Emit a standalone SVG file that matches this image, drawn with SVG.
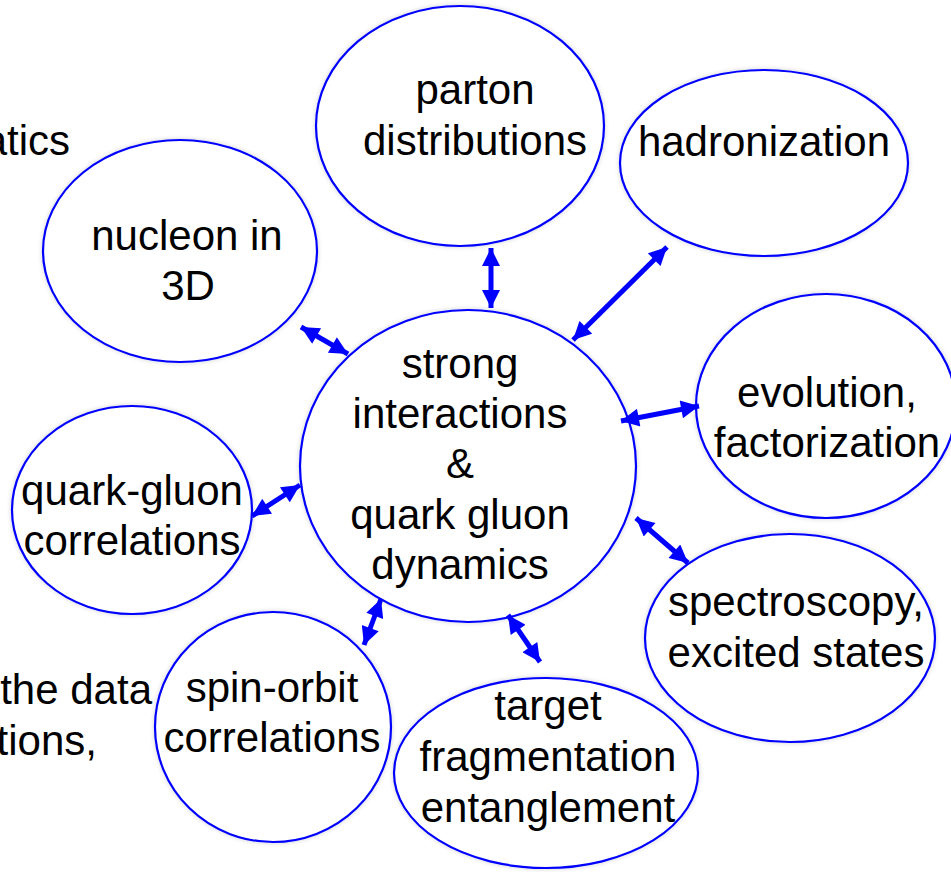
<svg xmlns="http://www.w3.org/2000/svg" width="951" height="872" viewBox="0 0 951 872">
<style>
.n ellipse{fill:#fff;stroke:#0000ff;stroke-width:2.2;filter:url(#sh)}
text{font-family:"Liberation Sans",Arial,sans-serif;font-size:42px;fill:#000}
.n text{text-anchor:middle}
.c line{stroke:#0000ff;stroke-width:5;marker-start:url(#a);marker-end:url(#a)}
</style>
<defs>
<filter id="sh" x="-10%" y="-10%" width="120%" height="120%">
<feGaussianBlur in="SourceAlpha" stdDeviation="2.5"/>
<feComponentTransfer><feFuncA type="linear" slope="0.18"/></feComponentTransfer>
<feMerge><feMergeNode/><feMergeNode in="SourceGraphic"/></feMerge>
</filter>
<marker id="a" viewBox="0 0 10 10" refX="10" refY="5" markerWidth="4" markerHeight="3.6" orient="auto-start-reverse" markerUnits="strokeWidth">
<path d="M0,0 L10,5 L0,10 Z" fill="#0000ff"/>
</marker>
</defs>
<rect width="951" height="872" fill="#fff"/>
<text x="70" y="155" text-anchor="end">atics</text>
<text x="152" y="704" text-anchor="end">the data</text>
<text x="97" y="755" text-anchor="end">tions,</text>
<g id="parton" class="n"><ellipse cx="460" cy="126" rx="144" ry="120"/><text x="475" y="104">parton</text><text x="475" y="155">distributions</text></g>
<g id="hadronization" class="n"><ellipse cx="764" cy="163" rx="144" ry="93"/><text x="764" y="156">hadronization</text></g>
<g id="nucleon" class="n"><ellipse cx="180" cy="251" rx="137" ry="111"/><text x="187" y="250">nucleon in</text><text x="188" y="300">3D</text></g>
<g id="evolution" class="n"><ellipse cx="826" cy="406" rx="130" ry="112"/><text x="827" y="407">evolution,</text><text x="827" y="457">factorization</text></g>
<g id="quarkgluon" class="n"><ellipse cx="132" cy="510" rx="120" ry="104"/><text x="132" y="505">quark-gluon</text><text x="132" y="555">correlations</text></g>
<g id="spectroscopy" class="n"><ellipse cx="790" cy="638" rx="145" ry="104"/><text x="796" y="616">spectroscopy,</text><text x="796" y="667">excited states</text></g>
<g id="spinorbit" class="n"><ellipse cx="273" cy="727" rx="118" ry="115"/><text x="272" y="702">spin-orbit</text><text x="272" y="752">correlations</text></g>
<g id="target" class="n"><ellipse cx="546" cy="773" rx="152" ry="95"/><text x="548" y="720">target</text><text x="548" y="771">fragmentation</text><text x="548" y="822">entanglement</text></g>
<g id="center" class="n"><ellipse cx="468" cy="466" rx="168" ry="156"/><text x="460" y="378">strong</text><text x="460" y="428">interactions</text><text x="460" y="478">&amp;</text><text x="460" y="529">quark gluon</text><text x="460" y="579">dynamics</text></g>
<g id="connectors" class="c">
<line x1="301" y1="327" x2="348" y2="354"/>
<line x1="491" y1="248" x2="491" y2="308"/>
<line x1="667" y1="247" x2="573" y2="340"/>
<line x1="621" y1="421" x2="699" y2="406"/>
<line x1="636" y1="518" x2="688" y2="563"/>
<line x1="508" y1="615" x2="540" y2="662"/>
<line x1="381" y1="599" x2="364" y2="645"/>
<line x1="300" y1="485" x2="252" y2="516"/>
</g>
</svg>
